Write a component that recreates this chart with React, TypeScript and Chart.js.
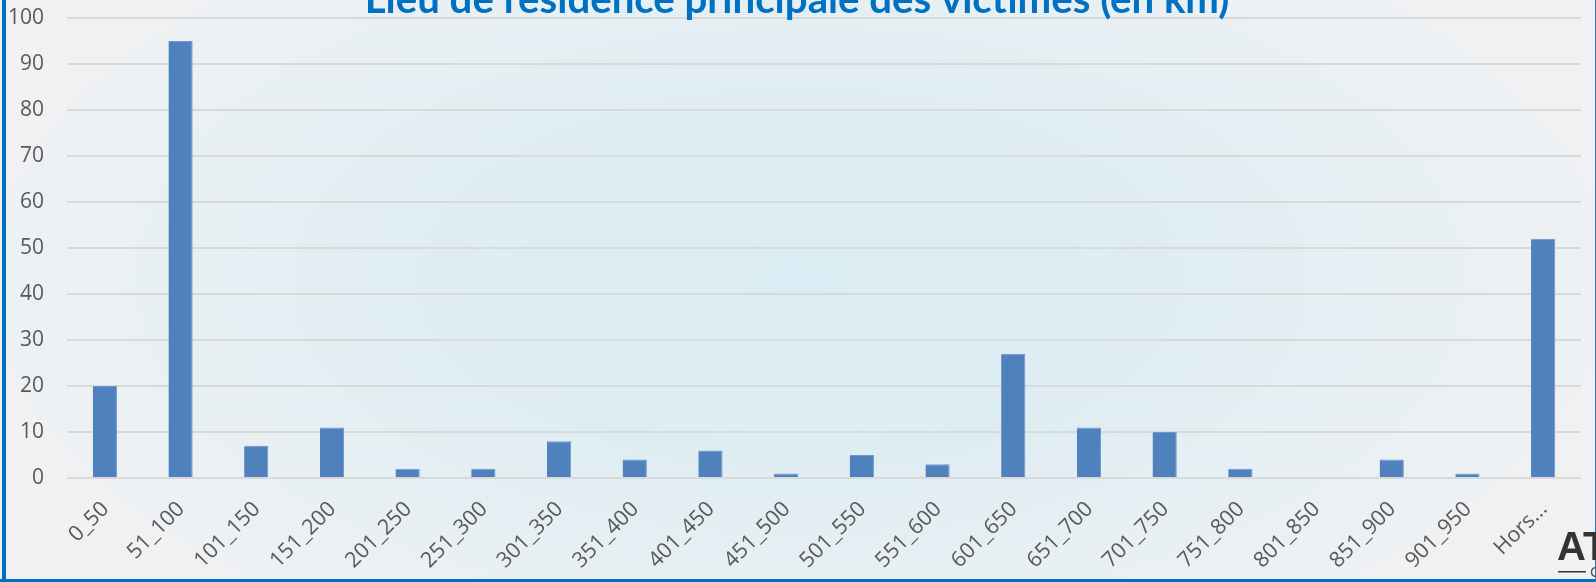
import React, { useEffect, useRef } from "react";
import { Chart, registerables } from "chart.js";

Chart.register(...registerables);

const categories = [
  "0_50", "51_100", "101_150", "151_200", "201_250", "251_300", "301_350",
  "351_400", "401_450", "451_500", "501_550", "551_600", "601_650", "651_700",
  "701_750", "751_800", "801_850", "851_900", "901_950", "Hors...",
];
const victims = [20, 95, 7, 11, 2, 2, 8, 4, 6, 1, 5, 3, 27, 11, 10, 2, 0, 4, 1, 52];
const yMin = 0;
const yMax = 100;
const yStep = 10;
const titleText = "Lieu de résidence principale des victimes (en km)";

const W = 1596;
const H = 582;

const decorPlugin = {
  id: "decor",
  beforeDraw(chart: any) {
    const ctx = chart.ctx as CanvasRenderingContext2D;
    ctx.save();
    ctx.fillStyle = "#EFF1F3";
    ctx.fillRect(0, 0, W, H);
    ctx.translate(800, 280);
    ctx.scale(1, 0.5);
    const g = ctx.createRadialGradient(0, 0, 0, 0, 0, 820);
    g.addColorStop(0, "#DBEDF4");
    g.addColorStop(0.45, "#DFEDF3");
    g.addColorStop(0.8, "#E9F0F3");
    g.addColorStop(1, "#EFF1F3");
    ctx.fillStyle = g;
    ctx.fillRect(-900, -700, 1800, 1400);
    ctx.restore();
  },
  afterDraw(chart: any) {
    const ctx = chart.ctx as CanvasRenderingContext2D;
    ctx.save();
    // rotated category labels, anchored on the x scale's tick pixels
    const xs = chart.scales.x;
    const labels = chart.data.labels as string[];
    ctx.fillStyle = "#595959";
    ctx.font = "21.5px 'Open Sans'";
    ctx.textAlign = "right";
    ctx.textBaseline = "alphabetic";
    labels.forEach((lab, i) => {
      const px = xs.getPixelForTick(i);
      ctx.save();
      ctx.translate(px + 5, xs.top + 32);
      ctx.rotate(-Math.PI / 4);
      ctx.fillText(lab, 0, 0);
      ctx.restore();
    });
    // title (clipped at the top like the reference)
    ctx.fillStyle = "#0070C0";
    ctx.textAlign = "center";
    ctx.textBaseline = "alphabetic";
    ctx.font = "bold 30px Lato";
    const m = ctx.measureText(titleText).width;
    const size = 30 * 865 / m;
    ctx.font = `bold ${size.toFixed(1)}px Lato`;
    ctx.fillText(titleText, 797, 13);
    // frame
    ctx.fillStyle = "#0070C0";
    ctx.fillRect(2, 0, 4, H);
    ctx.fillRect(0, 579, W, 3);
    ctx.fillStyle = "#2E75B6";
    ctx.fillRect(1595, 0, 1, H);
    // logo fragment
    ctx.fillStyle = "#333333";
    ctx.textAlign = "left";
    ctx.font = "bold 40px 'Liberation Sans'";
    ctx.fillText("AT", 1557, 560);
    ctx.fillRect(1558, 571, 28, 1.5);
    ctx.font = "15px 'Liberation Sans'";
    ctx.fillStyle = "#555555";
    ctx.fillText("C", 1590, 577);
    ctx.restore();
  },
};

export default function App() {
  const ref = useRef<HTMLCanvasElement | null>(null);
  useEffect(() => {
    if (!ref.current) return;
    const chart = new Chart(ref.current, {
      type: "bar",
      data: {
        labels: categories,
        datasets: [
          {
            data: victims,
            backgroundColor: "#4F81BD",
            borderColor: "#6E98CC",
            borderWidth: { top: 1, right: 1, left: 0, bottom: 0 },
            barPercentage: 0.32,
            categoryPercentage: 1,
          },
        ],
      },
      options: {
        responsive: false,
        animation: false,
        devicePixelRatio: 1,
        layout: { padding: { top: 18, right: 15, bottom: 0, left: 0 } },
        plugins: { legend: { display: false }, tooltip: { enabled: false }, title: { display: false } },
        scales: {
          x: {
            grid: { display: false, drawTicks: false },
            border: { display: false },
            ticks: { display: false, autoSkip: false },
            afterFit(scale: any) {
              scale.height = 104;
            },
          },
          y: {
            min: yMin,
            max: yMax,
            grid: { color: "#D9D9D9", lineWidth: 2, drawTicks: true, tickLength: 23, tickColor: "rgba(0,0,0,0)" },
            border: { display: false },
            ticks: {
              stepSize: yStep,
              padding: 0,
              color: "#595959",
              font: { family: "'Open Sans'", size: 21 },
            },
            afterFit(scale: any) {
              scale.width = 67;
            },
          },
        },
      },
      plugins: [decorPlugin],
    });
    return () => chart.destroy();
  }, []);
  return (
    <div style={{ position: "fixed", left: 0, top: 0, width: W, height: H }}>
      <canvas ref={ref} width={W} height={H} style={{ display: "block" }} />
    </div>
  );
}
